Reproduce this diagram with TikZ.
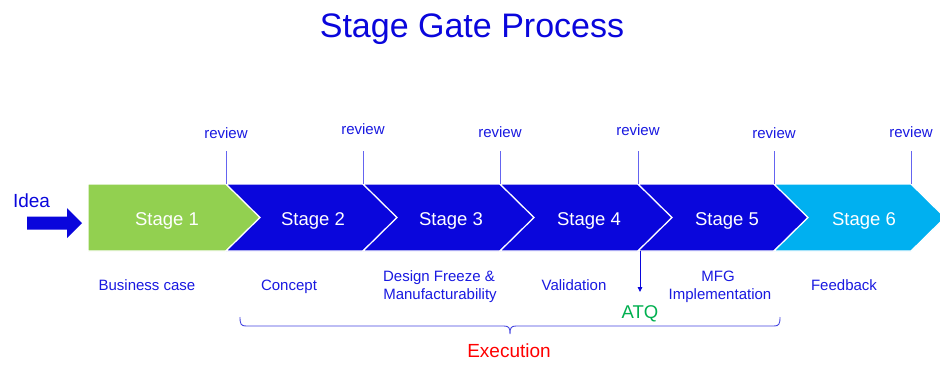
\documentclass[tikz,border=0pt]{standalone}
\usepackage{fontspec}
\setmainfont{Liberation Sans}
\usetikzlibrary{arrows.meta}

\definecolor{stageblue}{RGB}{10,6,220}
\definecolor{stagegreen}{RGB}{146,208,80}
\definecolor{stagecyan}{RGB}{0,176,240}
\definecolor{textblue}{RGB}{25,25,225}
\definecolor{gateline}{RGB}{100,100,240}
\definecolor{atqgreen}{RGB}{0,176,80}
\definecolor{bracecol}{RGB}{70,70,225}

\tikzset{
  chev/.style={draw=white, line width=1.2pt, line join=miter},
  stagelbl/.style={text=white, font=\fontsize{18.5}{20}\selectfont, inner sep=0pt, anchor=base},
  reviewlbl/.style={text=textblue, font=\fontsize{15}{17}\selectfont, anchor=base, inner sep=0pt},
  gatemark/.style={draw=gateline, line width=0.9pt},
  phaselbl/.style={text=textblue, font=\fontsize{15}{18}\selectfont, anchor=base, inner sep=0pt, align=center},
}

\begin{document}
\begin{tikzpicture}[x=1pt,y=-1pt]
\useasboundingbox (0,0) rectangle (940,365);
\clip (0,0) rectangle (940,365);
\fill[white] (0,0) rectangle (940,365);

% title
\node[text=stageblue, font=\fontsize{34}{38}\selectfont, anchor=base, inner sep=0pt] (title) at (472,37) {Stage Gate Process};

% stage chevrons
\filldraw[chev, fill=stagegreen] (88,184) -- (226,184) -- (260,217.5) -- (226,251) -- (88,251) -- cycle;
\foreach \L/\R/\c in {226/363/stageblue, 363/500/stageblue, 500/638/stageblue, 638/774/stageblue, 774/911/stagecyan}
  \filldraw[chev, fill=\c] (\L,184) -- (\R,184) -- (\R+34,217.5) -- (\R,251) -- (\L,251) -- (\L+34,217.5) -- cycle;

% stage names
\node[stagelbl] (s1) at (167,225) {Stage 1};
\node[stagelbl] (s2) at (313,225) {Stage 2};
\node[stagelbl] (s3) at (451,225) {Stage 3};
\node[stagelbl] (s4) at (589,225) {Stage 4};
\node[stagelbl] (s5) at (727,225) {Stage 5};
\node[stagelbl] (s6) at (864,225) {Stage 6};

% review gates
\foreach \i/\x/\b in {1/226/138, 2/363/134, 3/500/137, 4/638/135, 5/774/138, 6/911/137} {
  \node[reviewlbl] (r\i) at (\x,\b) {review};
  \coordinate (gtop\i) at (\x,151);
  \coordinate (gbot\i) at (\x,184);
  \draw[gatemark] (gtop\i) -- (gbot\i);
}

% idea input
\node[text=stageblue, font=\fontsize{19}{21}\selectfont, anchor=base, inner sep=0pt] (idea) at (31.5,207) {Idea};
\fill[stageblue] (27,216.5) -- (67,216.5) -- (67,208) -- (82,223) -- (67,238) -- (67,229.5) -- (27,229.5) -- cycle;

% phase descriptions
\node[phaselbl] (p1) at (147,290) {Business case};
\node[phaselbl] (p2) at (289,290) {Concept};
\node[phaselbl] (p3a) at (439,281) {Design Freeze \&};
\node[phaselbl] (p3b) at (440,299) {Manufacturability};
\node[phaselbl] (p4) at (574,290) {Validation};
\node[phaselbl] (p5a) at (718,281) {MFG};
\node[phaselbl] (p5b) at (720,299) {Implementation};
\node[phaselbl] (p6) at (844,290) {Feedback};

% ATQ marker
\node[text=atqgreen, font=\fontsize{18.5}{20}\selectfont, anchor=base, inner sep=0pt] (atq) at (640,318) {ATQ};
\coordinate (atqfrom) at (640,251);
\coordinate (atqto) at (640,292);
\draw[draw=stageblue, line width=0.9pt, -{Triangle[length=5pt,width=4.5pt]}] (atqfrom) -- (atqto);

% execution brace
\draw[draw=bracecol, line width=0.9pt]
  (240,317) .. controls (240,324) and (241,326) .. (246,326) -- (504,326)
  .. controls (509,326) and (510,328) .. (510,334)
  .. controls (510,328) and (511,326) .. (516,326) -- (774,326)
  .. controls (779,326) and (780,324) .. (780,317);
\node[text=red, font=\fontsize{19}{21}\selectfont, anchor=base, inner sep=0pt] (exec) at (509,357) {Execution};
\end{tikzpicture}
\end{document}
